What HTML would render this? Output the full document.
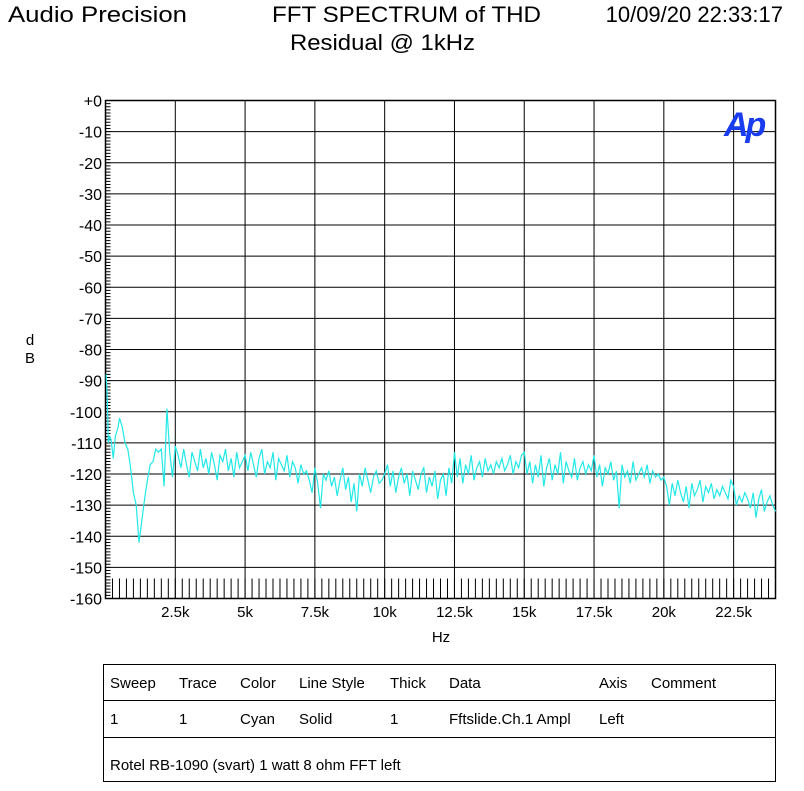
<!DOCTYPE html>
<html><head><meta charset="utf-8"><style>
body{margin:0;background:#fff;width:804px;height:786px;overflow:hidden;font-family:"Liberation Sans",sans-serif}
svg text{font-family:"Liberation Sans",sans-serif;fill:#000}
</style></head><body>
<svg id="chart" width="804" height="786" xmlns="http://www.w3.org/2000/svg">
<text x="8" y="22" font-size="22" textLength="179" lengthAdjust="spacingAndGlyphs">Audio Precision</text>
<text x="272" y="22" font-size="22" textLength="269" lengthAdjust="spacingAndGlyphs">FFT SPECTRUM of THD</text>
<text x="290" y="50" font-size="22" textLength="185" lengthAdjust="spacingAndGlyphs">Residual @ 1kHz</text>
<text x="783" y="22" font-size="22" text-anchor="end">10/09/20 22:33:17</text>
<g id="grid"></g>
<g id="axes"></g>
<polyline id="trace" fill="none" stroke="#22e8e8" stroke-width="1.2"/>
<text x="724" y="136" font-size="34" font-weight="bold" font-style="italic" fill="#1a3cf0" style="fill:#1a3cf0;letter-spacing:-3px">Ap</text>
<text x="30" y="345" font-size="15" text-anchor="middle">d</text>
<text x="30" y="363" font-size="15" text-anchor="middle">B</text>
<text x="441" y="642" font-size="15" text-anchor="middle">Hz</text>
<g font-size="15">
<rect x="103.5" y="664.5" width="672" height="117" fill="none" stroke="#000"/>
<line x1="103" y1="700.5" x2="776" y2="700.5" stroke="#000"/>
<line x1="103" y1="737.5" x2="776" y2="737.5" stroke="#000"/>
<text x="110" y="688">Sweep</text><text x="179" y="688">Trace</text><text x="240" y="688">Color</text><text x="299" y="688">Line Style</text><text x="390" y="688">Thick</text><text x="449" y="688">Data</text><text x="599" y="688">Axis</text><text x="651" y="688">Comment</text>
<text x="110" y="724">1</text><text x="179" y="724">1</text><text x="240" y="724">Cyan</text><text x="299" y="724">Solid</text><text x="390" y="724">1</text><text x="449" y="724">Fftslide.Ch.1 Ampl</text><text x="599" y="724">Left</text>
<text x="110" y="770">Rotel RB-1090 (svart) 1 watt 8 ohm FFT left</text>
</g>
</svg>
<script>
const xTicksHz=[2500,5000,7500,10000,12500,15000,17500,20000,22500];
const xTickLabels=["2.5k","5k","7.5k","10k","12.5k","15k","17.5k","20k","22.5k"];
const yTicks=[0,-10,-20,-30,-40,-50,-60,-70,-80,-90,-100,-110,-120,-130,-140,-150,-160];
const yTickLabels=["+0","-10","-20","-30","-40","-50","-60","-70","-80","-90","-100","-110","-120","-130","-140","-150","-160"];
const earlyHz=[20,60,100,150,200,280,350,450,500,600,700,800,900,1000,1100,1200,1300,1400,1500,1600,1700,1800,1900,2000,2100,2200,2300,2400,2500];
const earlyDb=[-88,-95,-110,-108,-109,-115,-108,-105,-102,-105,-110,-112,-118,-126,-130,-142,-135,-128,-122,-117,-116,-112,-113,-112,-124,-99,-113,-121,-111];
const lateStartHz=2600, lateStepHz=100;
const lateDb=[-114,-118,-112,-117,-121,-113,-116,-119,-112,-118,-115,-120,-113,-117,-122,-114,-116,-112,-119,-115,-121,-113,-118,-116,
-114,-119,-113,-117,-121,-115,-112,-120,-116,-118,-113,-122,-115,-117,-119,-114,-121,-116,-118,-123,-117,-120,-119,-122,-126,
-118,-123,-131,-120,-122,-119,-124,-121,-127,-122,-118,-125,-121,-129,-123,-132,-120,-124,-118,-122,-126,-121,-119,-123,-122,
-120,-117,-124,-119,-126,-121,-118,-123,-120,-127,-119,-122,-125,-120,-118,-126,-121,-124,-119,-128,-122,-120,-127,-118,-123,
-113,-121,-115,-123,-117,-120,-114,-122,-118,-116,-121,-115,-119,-117,-120,-116,-118,-115,-119,-117,-114,-120,-116,-118,-114,
-113,-120,-116,-123,-117,-121,-114,-124,-118,-115,-122,-117,-120,-113,-123,-116,-119,-121,-115,-122,-118,-116,-120,-117,-119,
-114,-121,-117,-124,-118,-120,-116,-122,-119,-131,-117,-121,-119,-123,-116,-122,-120,-118,-121,-117,-123,-119,-121,-120,-122,
-121,-124,-130,-123,-127,-122,-126,-129,-124,-131,-123,-127,-125,-122,-129,-124,-126,-123,-128,-125,-127,-124,-126,-128,-122,
-124,-130,-127,-129,-126,-128,-131,-126,-134,-128,-125,-132,-129,-127,-130,-132];
const L=105.5,R=775.5,T=100.5,B=598.5,XMAX=24000;
const xs=f=>L+(R-L)*f/XMAX, ys=d=>T+(B-T)*(-d)/160;
const NS="http://www.w3.org/2000/svg";
function mk(tag,attrs,parent){const e=document.createElementNS(NS,tag);for(const k in attrs)e.setAttribute(k,attrs[k]);parent.appendChild(e);return e;}
const grid=document.getElementById('grid'),axes=document.getElementById('axes');
yTicks.forEach((d,i)=>{
  const l=mk('line',{x1:L,x2:R,y1:ys(d),y2:ys(d),stroke:'#000','stroke-width':1},grid);
  
  
  const t=mk('text',{x:102,y:ys(d)+6,'font-size':16,'text-anchor':'end'},axes);t.textContent=yTickLabels[i];
  
  
});
xTicksHz.forEach((f,i)=>{
  const l=mk('line',{x1:xs(f),x2:xs(f),y1:T,y2:B,stroke:'#000','stroke-width':1},grid);
  
  
  const t=mk('text',{x:xs(f),y:617,'font-size':15,'text-anchor':'middle'},axes);t.textContent=xTickLabels[i];
  
  
});
mk('rect',{x:L,y:T,width:R-L,height:B-T,fill:'none',stroke:'#000','stroke-width':1.5},axes);
let p='';
for(let d=0;d>=-160;d--){const y=ys(d);p+=`M${L} ${y}H${L+5}`;}
for(let f=0;f<=XMAX;f+=250){const x=xs(f);p+=`M${x} ${B}V${B-20}`;}
const tk=mk('path',{d:p,stroke:'#000','stroke-width':1,fill:'none'},axes);


const pts=[];
earlyHz.forEach((f,i)=>pts.push(xs(f).toFixed(1)+','+ys(earlyDb[i]).toFixed(1)));
lateDb.forEach((d,i)=>pts.push(xs(Math.min(XMAX,lateStartHz+i*lateStepHz)).toFixed(1)+','+ys(d).toFixed(1)));
document.getElementById('trace').setAttribute('points',pts.join(' '));
</script>
</body></html>
